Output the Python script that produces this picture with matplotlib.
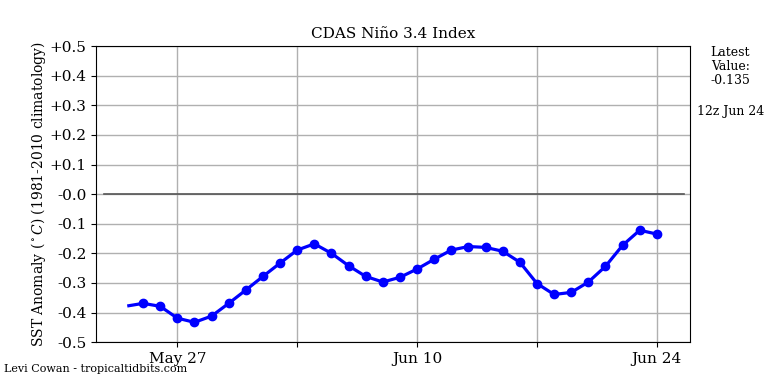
import datetime as dt
import numpy as np
import matplotlib
matplotlib.use("Agg")
import matplotlib.pyplot as plt
import matplotlib.dates as mdates

# daily values, 12z May 25 .. 12z Jun 24
start = dt.datetime(2019, 5, 25)
values = [-0.369, -0.379, -0.419, -0.433, -0.412, -0.369, -0.324, -0.278,
          -0.233, -0.189, -0.168, -0.200, -0.242, -0.278, -0.297, -0.281,
          -0.253, -0.220, -0.189, -0.177, -0.180, -0.193, -0.230, -0.302,
          -0.339, -0.332, -0.297, -0.244, -0.173, -0.122, -0.135]
first_value = -0.377
first_time = start - dt.timedelta(hours=20)
dates = [start + dt.timedelta(days=i) for i in range(len(values))]
yticks = [0.5, 0.4, 0.3, 0.2, 0.1, 0.0, -0.1, -0.2, -0.3, -0.4, -0.5]
ylabels = ['+0.5', '+0.4', '+0.3', '+0.2', '+0.1', '-0.0',
           '-0.1', '-0.2', '-0.3', '-0.4', '-0.5']

plt.rcParams['font.family'] = 'DejaVu Serif'
plt.rcParams['mathtext.fontset'] = 'dejavuserif'

fig = plt.figure(figsize=(7.68, 3.84), dpi=100)
ax = fig.add_axes([0.125, 0.109, 0.773, 0.771])

ax.plot([first_time] + dates, [first_value] + values, color='blue', lw=2.3, zorder=3)
ax.plot(dates, values, 'o', color='blue', ms=6, zorder=4)
ax.axhline(0, xmin=0.014, xmax=0.99, color='#555555', lw=1.2, zorder=2)

ax.set_xlim(dt.datetime(2019, 5, 22, 6), dt.datetime(2019, 6, 25, 22))
ax.set_ylim(-0.5, 0.5)
ax.set_yticks(yticks)
ax.set_yticklabels(ylabels, fontsize=11)

ticks = [dt.datetime(2019, 5, 27) + dt.timedelta(days=7 * i) for i in range(5)]
ax.set_xticks(ticks)
ax.set_xticklabels([t.strftime('%b %d') if i % 2 == 0 else '' for i, t in enumerate(ticks)],
                   fontsize=11)
ax.grid(True, color='#b0b0b0', lw=1)
ax.set_axisbelow(True)

ax.set_title('CDAS Niño 3.4 Index', fontsize=11)
ax.set_ylabel(r'SST Anomaly ($^\circ C$) (1981-2010 climatology)', fontsize=10, labelpad=1)

fig.text(0.951, 0.88, 'Latest\nValue:\n%.3f' % values[-1], ha='center', va='top',
         fontsize=9, linespacing=1.1)
fig.text(0.951, 0.71, dates[-1].strftime('12z %b %d'), ha='center', va='center', fontsize=9)
fig.text(0.005, 0.038, 'Levi Cowan - tropicaltidbits.com', fontsize=8, va='center')

fig.savefig('out.png', dpi=100)
